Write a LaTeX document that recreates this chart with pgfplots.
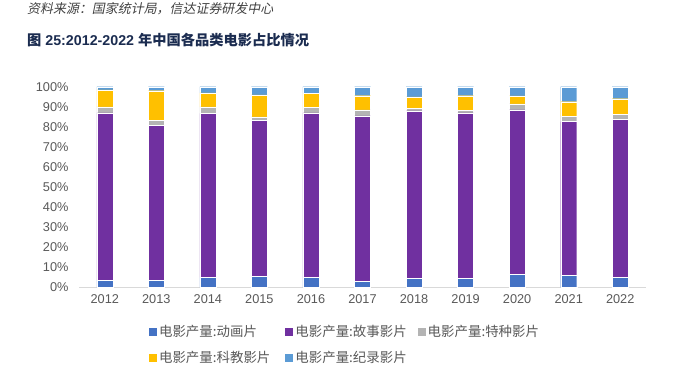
\documentclass[border=0pt]{standalone}
\usepackage{fontspec}
\usepackage{pgfplots}
\pgfplotsset{compat=1.18}
\setmainfont{Liberation Sans}
\newfontfamily\cjk{Noto Sans CJK SC}
\newfontfamily\cjkit[FakeSlant=0.2]{Noto Sans CJK SC}
\definecolor{cAni}{HTML}{4472C4}
\definecolor{cFea}{HTML}{7030A0}
\definecolor{cSpe}{HTML}{B4B4B4}
\definecolor{cSci}{HTML}{FFC000}
\definecolor{cDoc}{HTML}{5B9BD5}
\definecolor{cTitle}{HTML}{1B2C50}
\definecolor{cTxt}{HTML}{595959}
\begin{document}
\begin{tikzpicture}
\path[use as bounding box] (0,0) rectangle (673bp,-381bp);
\node[anchor=west, inner sep=0pt, text=black!75] at (27bp,-9bp) {\cjkit\fontsize{13}{15}\selectfont 资料来源：国家统计局，信达证券研发中心};
\node[anchor=west, inner sep=0pt, text=cTitle] at (27bp,-40bp) {\fontsize{14.3}{16}\selectfont{\cjk\bfseries 图} \bfseries 25:2012-2022 {\cjk\bfseries 年中国各品类电影占比情况}};
\begin{axis}[
  at={(79bp,-287.3bp)}, anchor=south west,
  scale only axis, width=567bp, height=200.6bp,
  ybar stacked, bar width=16bp,
  xmin=-0.5, xmax=10.5, ymin=0, ymax=100,
  xtick={0,...,10},
  xticklabels={2012,2013,2014,2015,2016,2017,2018,2019,2020,2021,2022},
  ytick={0,10,...,100},
  yticklabels={0\%,10\%,20\%,30\%,40\%,50\%,60\%,70\%,80\%,90\%,100\%},
  major tick length=0pt,
  axis x line*=bottom, axis y line*=left,
  x axis line style={draw=black!15, line width=1.5bp},
  y axis line style={draw=none},
  tick label style={text=cTxt, font=\fontsize{12.8}{14}\selectfont},
  yticklabel style={xshift=-7bp},
  xticklabel style={yshift=-4bp},
  every axis plot/.append style={draw=white, line width=0.3bp},
  legend image code/.code={\fill[#1,draw=none] (0bp,-4bp) rectangle (8bp,4bp);},
  legend columns=3,
  legend style={draw=none, at={(0.118,-0.17)}, anchor=north west,
    font=\cjk\fontsize{13.5}{15}\selectfont, text=cTxt,
    row sep=9bp,
    /tikz/column 2/.style={column sep=13bp},
    /tikz/column 4/.style={column sep=9bp}},
  legend cell align=left,
]
\addplot[fill=cAni] coordinates {(0,3.6) (1,3.6) (2,5.0) (3,5.6) (4,5.0) (5,3.1) (6,4.6) (7,4.6) (8,6.6) (9,6.1) (10,5.1)};
\addplot[fill=cFea] coordinates {(0,83.4) (1,77.3) (2,81.7) (3,77.5) (4,82.0) (5,82.4) (6,83.4) (7,82.4) (8,81.9) (9,76.5) (10,78.5)};
\addplot[fill=cSpe] coordinates {(0,3.0) (1,2.3) (2,3.2) (3,1.9) (4,2.7) (5,3.0) (6,1.2) (7,1.2) (8,2.9) (9,2.6) (10,2.6)};
\addplot[fill=cSci] coordinates {(0,8.4) (1,14.8) (2,7.0) (3,10.9) (4,7.0) (5,7.0) (6,5.7) (7,7.3) (8,4.0) (9,7.3) (10,7.8)};
\addplot[fill=cDoc] coordinates {(0,1.6) (1,2.0) (2,3.1) (3,4.1) (4,3.3) (5,4.5) (6,5.1) (7,4.5) (8,4.6) (9,7.5) (10,6.0)};
\legend{电影产量:动画片,电影产量:故事影片,电影产量:特种影片,电影产量:科教影片,电影产量:纪录影片}
\end{axis}
\end{tikzpicture}
\end{document}
